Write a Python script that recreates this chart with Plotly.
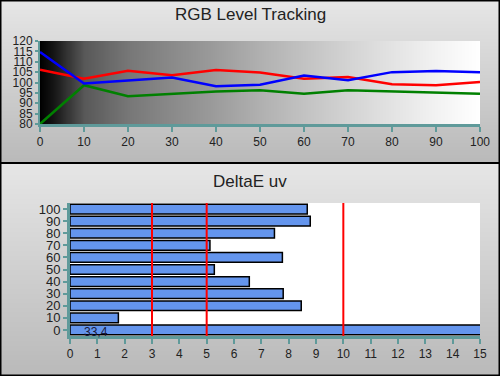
import numpy as np
import plotly.graph_objects as go

# ---- data ----
levels = [0, 10, 20, 30, 40, 50, 60, 70, 80, 90, 100]
red = [106.2, 101.8, 105.6, 103.5, 106.0, 104.8, 101.8, 102.6, 99.2, 98.7, 100.3]
green = [80.0, 98.7, 93.4, 94.4, 95.7, 96.3, 94.6, 96.3, 95.8, 95.2, 94.6]
blue = [114.7, 99.5, 101.0, 102.4, 98.2, 98.9, 103.4, 101.1, 105.0, 105.6, 105.0]

de_levels = [0, 10, 20, 30, 40, 50, 60, 70, 80, 90, 100]
de_values = [33.4, 1.77, 8.46, 7.8, 6.56, 5.28, 7.77, 5.12, 7.48, 8.79, 8.68]
de_label = "33,4"
threshold_lines = [3, 5, 10]

W, H = 500, 376
TEAL = "#5f9a9a"
FONT = "Liberation Sans, Arial, sans-serif"

def py(p):  # pixel y -> paper
    return (H - p) / H

def px(p):
    return p / W

split = 163

fig = go.Figure()

# panel background gradients (axes x/y and x2/y2)
ys = np.linspace(0, 1, 40)
zpan = [[v, v] for v in ys]
grad = [[0, "#b9b9b9"], [1, "#e6e6e6"]]
fig.add_trace(go.Heatmap(x=[0, 1], y=ys, z=zpan, colorscale=grad, showscale=False,
                         zsmooth="best", hoverinfo="skip", xaxis="x", yaxis="y"))
fig.add_trace(go.Heatmap(x=[0, 1], y=ys, z=zpan, colorscale=grad, showscale=False,
                         zsmooth="best", hoverinfo="skip", xaxis="x2", yaxis="y2"))

# top plot area horizontal gradient (x3/y3)
gx = np.linspace(0, 100, 101)
fig.add_trace(go.Heatmap(x=gx, y=[80, 120], z=[gx, gx],
                         colorscale=[[0, "#000000"], [0.03, "#151515"], [0.1, "#585858"],
                                     [0.2, "#777777"], [0.3, "#8a8a8a"], [0.4, "#9c9c9c"],
                                     [0.5, "#b0b0b0"], [0.6, "#c2c2c2"], [0.7, "#d3d3d3"],
                                     [0.8, "#e3e3e3"], [0.9, "#f2f2f2"], [1, "#ffffff"]],
                         showscale=False, zsmooth="best", hoverinfo="skip",
                         xaxis="x3", yaxis="y3"))
for vals, col in [(red, "#ff0000"), (green, "#008000"), (blue, "#0000ff")]:
    fig.add_trace(go.Scatter(x=levels, y=vals, mode="lines",
                             line=dict(color=col, width=2.5),
                             xaxis="x3", yaxis="y3", showlegend=False))

# bottom chart (x4/y4)
fig.add_trace(go.Heatmap(x=[0, 15], y=[-5, 105], z=[[0, 0], [0, 0]],
                         colorscale=[[0, "white"], [1, "white"]], showscale=False,
                         hoverinfo="skip", xaxis="x4", yaxis="y4"))
fig.add_trace(go.Bar(x=de_values, y=de_levels, orientation="h", width=8,
                     marker=dict(color="#6495ed", line=dict(color="black", width=1.5)),
                     xaxis="x4", yaxis="y4", showlegend=False, hoverinfo="skip"))

shapes = []
for t in threshold_lines:
    shapes.append(dict(type="line", xref="x4", yref="y4", x0=t, x1=t, y0=-5, y1=105,
                       line=dict(color="red", width=2), layer="above"))
# panel borders
shapes.append(dict(type="rect", xref="paper", yref="paper", x0=0.001, x1=0.999,
                   y0=py(split), y1=0.999, line=dict(color="black", width=2)))
shapes.append(dict(type="rect", xref="paper", yref="paper", x0=0.001, x1=0.999,
                   y0=0.001, y1=py(split), line=dict(color="black", width=2)))

annotations = [
    dict(text="RGB Level Tracking", x=0.5, y=py(15), xref="paper", yref="paper",
         yanchor="middle", showarrow=False, font=dict(size=17, color="#222", family=FONT)),
    dict(text="DeltaE uv", x=0.5, y=py(181), xref="paper", yref="paper",
         yanchor="middle", showarrow=False, font=dict(size=17, color="#222", family=FONT)),
    dict(text=de_label, x=0.45, y=-1.5, xref="x4", yref="y4", xanchor="left",
         yanchor="middle", showarrow=False, font=dict(size=12, color="#1a1a3a", family=FONT)),
]

hidden = dict(visible=False, fixedrange=True)
fig.update_layout(
    width=W, height=H, margin=dict(l=0, r=0, t=0, b=0, pad=0, autoexpand=False),
    paper_bgcolor="#d0d0d0", plot_bgcolor="rgba(0,0,0,0)",
    font=dict(family=FONT, color="#222"),
    showlegend=False,
    xaxis=dict(domain=[0, 1], range=[0, 1], anchor="y", **hidden),
    yaxis=dict(domain=[py(split), 1], range=[0, 1], anchor="x", **hidden),
    xaxis2=dict(domain=[0, 1], range=[0, 1], anchor="y2", **hidden),
    yaxis2=dict(domain=[0, py(split)], range=[0, 1], anchor="x2", **hidden),
    xaxis3=dict(domain=[px(40), px(480)], range=[0, 100], tickvals=levels, anchor="y3",
                showgrid=False, zeroline=False, showline=True, linecolor=TEAL, linewidth=3,
                ticks="outside", tickcolor=TEAL, ticklen=5, tickwidth=2,
                tickfont=dict(size=12, color="#222")),
    yaxis3=dict(domain=[py(124), py(41)], range=[80, 120], tickvals=list(range(80, 121, 5)),
                anchor="x3",
                showgrid=True, gridcolor=TEAL, gridwidth=1, zeroline=False,
                showline=True, linecolor=TEAL, linewidth=2,
                ticks="outside", tickcolor=TEAL, ticklen=3, tickwidth=2,
                tickfont=dict(size=12, color="#222")),
    xaxis4=dict(domain=[px(70), px(480)], range=[0, 15], tickvals=list(range(0, 16)),
                anchor="y4",
                showgrid=True, gridcolor=TEAL, gridwidth=1, zeroline=False,
                showline=True, linecolor=TEAL, linewidth=3,
                ticks="outside", tickcolor=TEAL, ticklen=5, tickwidth=2,
                tickfont=dict(size=12, color="#222")),
    yaxis4=dict(domain=[py(336), py(203)], range=[-5, 105], tickvals=de_levels,
                anchor="x4",
                showgrid=False, zeroline=False, showline=True, linecolor=TEAL, linewidth=3,
                ticks="outside", tickcolor=TEAL, ticklen=4, tickwidth=2,
                tickfont=dict(size=13, color="#222")),
    shapes=shapes, annotations=annotations,
)

fig.write_html("out.html", config={"displayModeBar": False, "staticPlot": True},
               post_script="document.body.style.margin='0';")
